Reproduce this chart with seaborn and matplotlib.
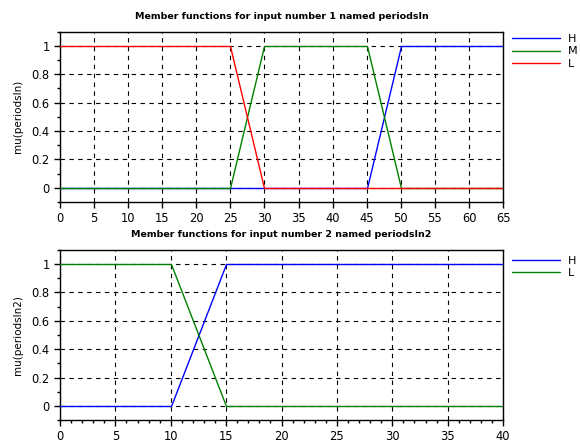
import matplotlib
matplotlib.use("Agg")
import matplotlib.pyplot as plt
from matplotlib.ticker import MultipleLocator
import pandas as pd
import seaborn as sns

# Membership functions for input 1 (periodsIn)
x1 = [0, 25, 30, 45, 50, 65]
h1 = [0, 0, 0, 0, 1, 1]
m1 = [0, 0, 1, 1, 0, 0]
l1 = [1, 1, 0, 0, 0, 0]

# Membership functions for input 2 (periodsIn2)
x2 = [0, 10, 15, 40]
h2 = [0, 0, 1, 1]
l2 = [1, 1, 0, 0]

title1 = "Member functions for input number 1 named periodsIn"
title2 = "Member functions for input number 2 named periodsIn2"
ylabel1 = "mu(periodsIn)"
ylabel2 = "mu(periodsIn2)"

sns.set_style("ticks")
plt.rcParams["font.family"] = ["DejaVu Sans"]
plt.rcParams["text.color"] = "black"
plt.rcParams["axes.labelcolor"] = "black"
plt.rcParams["xtick.color"] = "black"
plt.rcParams["ytick.color"] = "black"

palette = {"H": "#0000ff", "M": "#008000", "L": "#ff0000"}
palette2 = {"H": "#0000ff", "L": "#008000"}


def long_frame(x, series):
    rows = []
    for name, vals in series.items():
        for xi, yi in zip(x, vals):
            rows.append({"x": xi, "mu": yi, "mf": name})
    return pd.DataFrame(rows)


df1 = long_frame(x1, {"H": h1, "M": m1, "L": l1})
df2 = long_frame(x2, {"H": h2, "L": l2})

fig = plt.figure(figsize=(5.8, 4.44), dpi=100)
ax1 = fig.add_axes([0.1034, 0.545, 0.764, 0.384])
ax2 = fig.add_axes([0.1034, 0.054, 0.764, 0.383])


def style_axes(ax, xmax, title, ylabel, xminor, leg_top):
    ax.set_axisbelow(True)
    ax.set_xlim(0, xmax)
    ax.set_ylim(-0.1, 1.1)
    ax.xaxis.set_major_locator(MultipleLocator(5))
    ax.yaxis.set_minor_locator(MultipleLocator(0.1))
    if xminor:
        ax.xaxis.set_minor_locator(MultipleLocator(1))
    ax.set_yticks([0, 0.2, 0.4, 0.6, 0.8, 1.0])
    ax.set_yticklabels(["0", "0.2", "0.4", "0.6", "0.8", "1"])
    ax.grid(True, which="major", color="black", linestyle=(0, (4, 4)),
            linewidth=0.8, zorder=0)
    ax.tick_params(axis="both", which="major", labelsize=8.3, length=4, width=1,
                   direction="out", color="black", labelcolor="black")
    ax.tick_params(axis="both", which="minor", length=2.5, width=1,
                   direction="out", color="black")
    for s in ax.spines.values():
        s.set_visible(True)
        s.set_color("black")
        s.set_linewidth(1)
    ax.set_title(title, fontsize=6.8, fontweight="bold", pad=9, color="black")
    ax.set_ylabel(ylabel, fontsize=7.5, labelpad=6, color="black")
    ax.set_xlabel("")
    for ln in ax.get_lines():
        ln.set_zorder(3)
        ln.set_snap(True)
    for gl in ax.get_xgridlines() + ax.get_ygridlines():
        gl.set_snap(True)
    ax.legend(loc="upper left", bbox_to_anchor=(1.01, leg_top), frameon=False,
              fontsize=8, handlelength=4.3, handletextpad=0.7,
              labelspacing=0.2, borderaxespad=0)


sns.lineplot(data=df1, x="x", y="mu", hue="mf", hue_order=["H", "M", "L"],
             palette=palette, ax=ax1, linewidth=1.0, estimator=None, sort=False)
style_axes(ax1, 65, title1, ylabel1, xminor=False, leg_top=1.01)

sns.lineplot(data=df2, x="x", y="mu", hue="mf", hue_order=["H", "L"],
             palette=palette2, ax=ax2, linewidth=1.0, estimator=None, sort=False)
style_axes(ax2, 40, title2, ylabel2, xminor=True, leg_top=0.99)

fig.savefig("out.png", dpi=100)
